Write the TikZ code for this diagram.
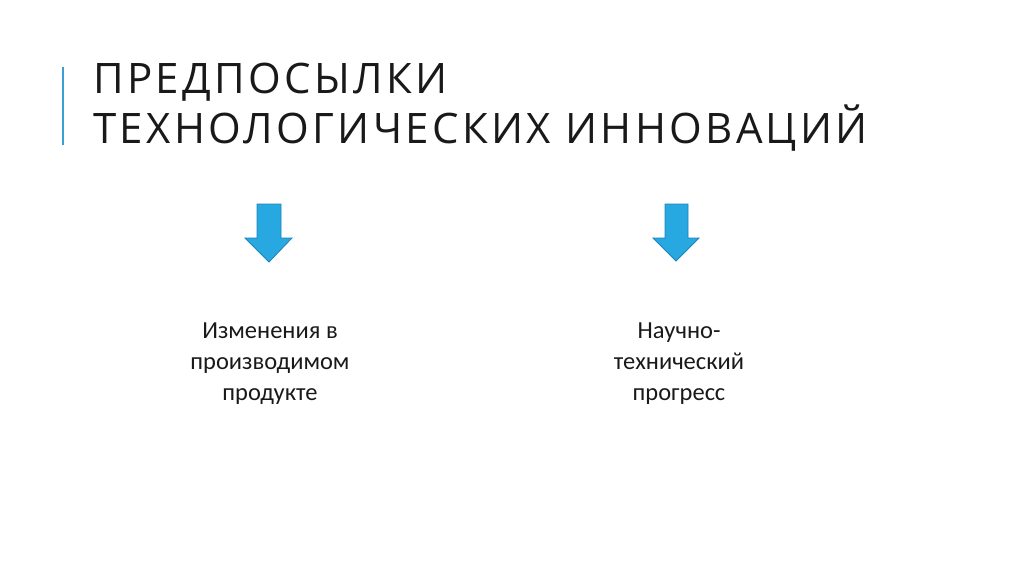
\documentclass[tikz,border=0pt]{standalone}
\usepackage{fontspec}
\setmainfont{Carlito}
\newfontfamily\titlefont[LetterSpace=8]{Open Sans}
\definecolor{accent}{RGB}{58,160,210}
\definecolor{arrowfill}{RGB}{40,168,224}
\definecolor{arrowline}{RGB}{30,130,190}
\tikzset{
  title/.style={anchor=base west, inner sep=0pt, font=\titlefont\fontsize{42}{50}\selectfont, text=black!90},
  body/.style={align=center, inner sep=0pt, font=\fontsize{24.5}{31}\selectfont, text=black!90},
  downarrow/.style={fill=arrowfill, draw=arrowline, line width=0.8pt, line join=miter}
}

\begin{document}
\begin{tikzpicture}[x=1pt, y=-1pt]
    \useasboundingbox (0, 0) rectangle (1024, 574);

    % accent bar
    \draw[accent, line width=2pt] (62.5, 67) -- (62.5, 145);

    \node[title] (T1) at (93, 93) {ПРЕДПОСЫЛКИ};
    \node[title] (T2) at (93, 143) {ТЕХНОЛОГИЧЕСКИХ ИННОВАЦИЙ};

    % arrows
    \draw[downarrow] (257, 204) -- (281, 204) -- (281, 238) -- (292, 238)
        -- (269, 262) -- (245, 238) -- (257, 238) -- cycle;
    \draw[downarrow] (665, 204) -- (688, 204) -- (688, 238) -- (699, 238)
        -- (676, 261) -- (653, 238) -- (665, 238) -- cycle;

    \node[body, anchor=base] (L) at (270, 400) {Изменения в\\производимом\\продукте};
    \node[body, anchor=base] (R) at (679, 400) {Научно-\\технический\\прогресс};

  \end{tikzpicture}
\end{document}
